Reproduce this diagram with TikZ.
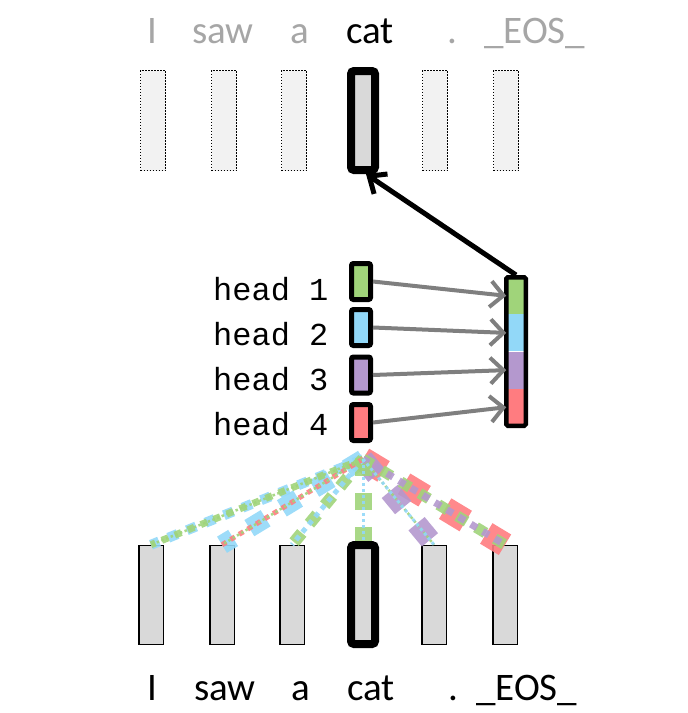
\documentclass[tikz,border=0pt]{standalone}
\usepackage{fontspec}
\setmainfont{Carlito}
\newfontfamily\monof{Liberation Mono}
\usetikzlibrary{arrows.meta}
\definecolor{hgreen}{RGB}{160,212,122}
\definecolor{hblue}{RGB}{146,216,248}
\definecolor{hpurple}{RGB}{180,152,206}
\definecolor{hred}{RGB}{255,124,128}
\definecolor{tokgray}{RGB}{217,217,217}
\definecolor{ghostgray}{RGB}{242,242,242}
\definecolor{wordgray}{RGB}{166,166,166}
\definecolor{arrowgray}{RGB}{127,127,127}
\newcommand\attline[4]{\draw[draw=#2, line width=#3pt, dash pattern=on #3pt off #3pt, opacity=.9] (#1) -- (#4);}
\begin{document}
\begin{tikzpicture}[x=1pt,y=-1pt,
  tokbox/.style={draw=black, line width=1.5pt, fill=tokgray, minimum width=24.5pt, minimum height=99pt, inner sep=0pt},
  ghostbox/.style={draw=black, line width=1.6pt, dash pattern=on 1.6pt off 1.4pt, fill=ghostgray, minimum width=25pt, minimum height=100pt, inner sep=0pt},
  focusbox/.style={draw=black, line width=8pt, rounded corners=3pt, fill=tokgray, minimum width=24pt, minimum height=99pt, inner sep=0pt},
  word/.style={font=\fontsize{39}{44}\selectfont, inner sep=0pt, anchor=base},
  headlbl/.style={font=\monof\fontsize{32}{36}\selectfont, inner sep=0pt, anchor=base west},
  headbox/.style={draw=black, line width=5pt, rounded corners=2pt, minimum width=19pt, minimum height=36pt, inner sep=0pt},
  seg/.style={minimum width=19.5pt, minimum height=37.125pt, inner sep=0pt, outer sep=0pt},
  garrow/.style={draw=arrowgray, line width=4pt, -{Straight Barb[length=13pt,width=26pt]}},
  karrow/.style={draw=black, line width=5pt, -{Straight Barb[length=14pt,width=24pt]}}
]
\useasboundingbox (0,0) rectangle (688,713);

% top output tokens
\node[ghostbox] (o1) at (153,120.5) {};
\node[ghostbox] (o2) at (224,120.5) {};
\node[ghostbox] (o3) at (294,120.5) {};
\node[focusbox] (o4) at (363,120.5) {};
\node[ghostbox] (o5) at (435,120.5) {};
\node[ghostbox] (o6) at (506,120.5) {};

\node[word, text=wordgray] (ow1) at (152,43) {I};
\node[word, text=wordgray] (ow2) at (223,43) {saw};
\node[word, text=wordgray] (ow3) at (300,43) {a};
\node[word, text=black] (ow4) at (370,43) {cat};
\node[word, text=wordgray] (ow5) at (452,43) {.};
\node[word, text=wordgray, anchor=base west] (ow6) at (484,43) {\_EOS\_};

% bottom input tokens
\node[tokbox] (t1) at (151,595) {};
\node[tokbox] (t2) at (222,595) {};
\node[tokbox] (t3) at (292,595) {};
\node[focusbox] (t4) at (363,594.5) {};
\node[tokbox] (t5) at (434,595) {};
\node[tokbox] (t6) at (505,595) {};

\node[word] (w1) at (152,700) {I};
\node[word] (w2) at (225,700) {saw};
\node[word] (w3) at (301,700) {a};
\node[word] (w4) at (371,700) {cat};
\node[word] (w5) at (453,700) {.};
\node[word, anchor=base west] (w6) at (476,700) {\_EOS\_};

% heads
\node[headbox, fill=hgreen] (h1) at (361,281.5) {};
\node[headbox, fill=hblue] (h2) at (361,327.5) {};
\node[headbox, fill=hpurple] (h3) at (361,375) {};
\node[headbox, fill=hred] (h4) at (361,422.5) {};
\node[headlbl] (l1) at (213,300) {head 1};
\node[headlbl] (l2) at (213,345) {head 2};
\node[headlbl] (l3) at (213,390) {head 3};
\node[headlbl] (l4) at (213,435) {head 4};

% concatenated vector
\node[seg, fill=hgreen] (c1) at (516,295.8) {};
\node[seg, fill=hblue] (c2) at (516,332.9) {};
\node[seg, fill=hpurple] (c3) at (516,370.1) {};
\node[seg, fill=hred] (c4) at (516,407.2) {};
\node[draw=black, line width=4.5pt, rounded corners=1.5pt, minimum width=19.5pt, minimum height=148.5pt, inner sep=0pt] (cc) at (516,351.5) {};

\draw[garrow] (h1.east) -- (c1.west);
\draw[garrow] (h2.east) -- (c2.west);
\draw[garrow] (h3.east) -- (c3.west);
\draw[garrow] (h4.east) -- (c4.west);
\draw[karrow] (cc.north) -- ([xshift=3pt]o4.south);

% attention lines (large weights first, small dotted ones on top)
\coordinate (src) at (363,459);
\attline{src}{hred}{24}{t6.north}
\attline{src}{hpurple}{21}{t5.north}
\attline{src}{hblue}{19}{t2.north}
\attline{src}{hblue}{10}{t1.north}
\attline{src}{hgreen}{12}{t3.north}
\attline{src}{hgreen}{11}{t6.north}
\attline{src}{hgreen}{17}{t4.north}
\attline{src}{hgreen}{7}{t1.north}
\attline{src}{hpurple}{7}{t6.north}
\attline{src}{hblue}{5}{t3.north}
\attline{src}{hred}{5}{t2.north}
\attline{src}{hgreen}{2.5}{t1.north}
\attline{src}{hgreen}{2.5}{t2.north}
\attline{src}{hgreen}{2.5}{t5.north}
\attline{src}{hblue}{3}{t4.north}
\attline{src}{hblue}{3}{t5.north}
\end{tikzpicture}
\end{document}
